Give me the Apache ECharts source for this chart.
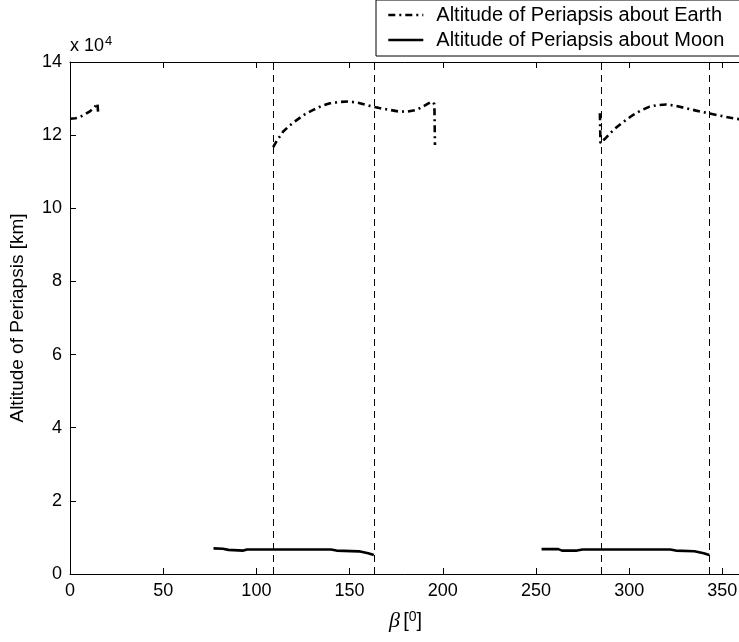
<!DOCTYPE html>
<html>
<head>
<meta charset="utf-8">
<script src="https://cdn.jsdelivr.net/npm/echarts@6/dist/echarts.min.js"></script>
<style>html,body{margin:0;padding:0;background:#fff;}#c{width:739px;height:642px;}</style>
</head>
<body>
<div id="c"></div>
<script>
// beta [deg]; altitude [x 10^4 km]; null = gap
const betaEarth = [0,3,5.4,8,10.7,13,14.7,15.2,null,
  109,111,114.4,118,121.6,126,130.5,135,139.5,145,150,155,161,166,171.7,176,180.6,186,190,194,195.5,195.8,null,
  284.3,284.6,287,291.5,296,302,306,311,315,320,325,331,336,341.6,347,352,356,360];
const altEarth = [12.45,12.46,12.5,12.57,12.65,12.75,12.87,12.55,null,
  11.67,11.85,12.1,12.27,12.41,12.57,12.69,12.8,12.87,12.91,12.92,12.88,12.8,12.74,12.69,12.65,12.64,12.69,12.8,12.92,12.85,11.73,null,
  12.6,11.78,11.9,12.14,12.33,12.55,12.67,12.78,12.82,12.84,12.8,12.73,12.67,12.61,12.55,12.5,12.46,12.43];
const betaMoon = [77,82,85,93,95,140,143,155,160,163,null,
  253,262,264,272,275,322,325,335,340,343];
const altMoon = [0.70,0.69,0.66,0.64,0.67,0.67,0.64,0.62,0.57,0.52,null,
  0.68,0.68,0.64,0.64,0.67,0.67,0.64,0.62,0.57,0.52];
const dashedBetas = [109,163,285,343];
const xLabelTicks = [0,50,100,150,200,250,300,350];
const xTickValues = [0,50,100,109,150,163,200,250,285,300,343,350];
const yTicks = [0,2,4,6,8,10,12,14];
const SCALE = 1e4;

function pairs(xs, ys){
  return xs.map((x,i)=> (x===null||ys[i]===null) ? [null,null] : [x, ys[i]*SCALE]);
}

const FONT = 'Liberation Sans, Arial, sans-serif';
const chart = echarts.init(document.getElementById('c'), null, {renderer:'canvas'});
const axisCommon = {
  axisLine:{show:true,lineStyle:{color:'#000',width:1}},
  splitLine:{show:false},
};
chart.setOption({
  animation:false,
  backgroundColor:'#fff',
  grid:{left:70, top:62, right:-2, bottom:68, outerBoundsMode:'none', containLabel:false},
  legend:{
    orient:'vertical', left:376, top:0,
    padding:[5,60,6,11],
    itemGap:5, itemWidth:35, itemHeight:14,
    backgroundColor:'#fff', borderColor:'#000', borderWidth:1, borderRadius:0,
    itemStyle:{color:'rgba(0,0,0,0)', borderWidth:0, opacity:0},
    lineStyle:{width:2.6, color:'#000'},
    textStyle:{fontFamily:FONT, fontSize:20, color:'#000', lineHeight:20, padding:[0,0,0,8]},
    data:['Altitude of Periapsis about Earth','Altitude of Periapsis about Moon']
  },
  xAxis:[{
    type:'value', min:0, max:360, interval:50, position:'bottom',
    ...axisCommon,
    axisTick:{show:true, inside:true, length:6, lineStyle:{color:'#000'}, customValues:xTickValues},
    axisLabel:{show:true, color:'#000', fontFamily:FONT, fontSize:18, margin:8, customValues:xLabelTicks},
    name:'{b|β} {t|[}{s|0}{t|]}', nameLocation:'middle', nameGap:36,
    nameTextStyle:{rich:{
      b:{fontFamily:'Liberation Serif, Times New Roman, serif', fontStyle:'italic', fontSize:22, color:'#000'},
      t:{fontFamily:FONT, fontSize:20, color:'#000'},
      s:{fontFamily:FONT, fontSize:14, color:'#000', verticalAlign:'top', padding:[0,0,8,0]}
    }}
  },{
    type:'value', min:0, max:360, interval:50, position:'top',
    ...axisCommon,
    axisTick:{show:true, inside:true, length:6, lineStyle:{color:'#000'}, customValues:xTickValues},
    axisLabel:{show:false}
  }],
  yAxis:[{
    type:'value', min:0, max:14*SCALE, interval:2*SCALE,
    ...axisCommon,
    axisTick:{show:true, inside:true, length:6, lineStyle:{color:'#000'}},
    axisLabel:{color:'#000', fontFamily:FONT, fontSize:18, margin:8, formatter:(v)=>String(Math.round(v/SCALE))},
    name:'Altitude of Periapsis [km]', nameLocation:'middle', nameGap:43, nameRotate:90,
    nameTextStyle:{fontFamily:FONT, fontSize:19, color:'#000'}
  }],
  graphic:[{
    type:'text', left:70, top:35,
    style:{text:'{a|x 10}{s|4}', rich:{
      a:{fontFamily:FONT, fontSize:18, fill:'#000'},
      s:{fontFamily:FONT, fontSize:13, fill:'#000', verticalAlign:'top', padding:[0,0,10,1]}
    }}
  }],
  series:[{
    name:'Altitude of Periapsis about Earth', type:'line', symbol:'none',
    connectNulls:false,
    data:pairs(betaEarth, altEarth),
    lineStyle:{color:'#000', width:2.6, type:[7,4,2,4]},
    itemStyle:{color:'#000'}
  },{
    name:'Altitude of Periapsis about Moon', type:'line', symbol:'none', step:false,
    connectNulls:false,
    data:pairs(betaMoon, altMoon),
    lineStyle:{color:'#000', width:2.6, type:'solid'},
    itemStyle:{color:'#000'},
    markLine:{
      silent:true, symbol:['none','none'], label:{show:false},
      lineStyle:{color:'#000', width:1, type:[7,5]},
      data:dashedBetas.map(b=>({xAxis:b}))
    }
  }]
});
</script>
</body>
</html>
